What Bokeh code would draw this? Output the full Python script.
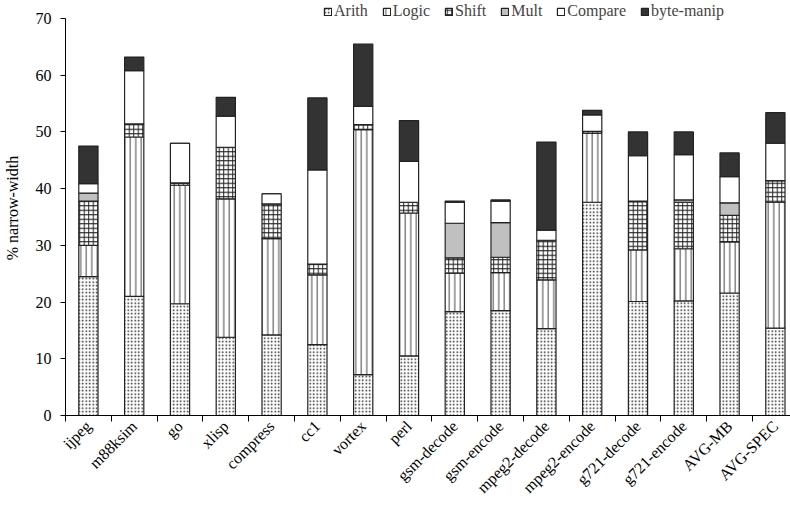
from bokeh.plotting import figure
from bokeh.models import ColumnDataSource, Range1d, FixedTicker, CustomJSTickFormatter, Legend
from bokeh.embed import file_html
from bokeh.resources import INLINE
import math

categories = ["ijpeg", "m88ksim", "go", "xlisp", "compress", "cc1", "vortex", "perl",
              "gsm-decode", "gsm-encode", "mpeg2-decode", "mpeg2-encode",
              "g721-decode", "g721-encode", "AVG-MB", "AVG-SPEC"]
arith   = [24.5, 21.0, 19.7, 13.8, 14.2, 12.5, 7.2, 10.5, 18.3, 18.5, 15.3, 37.6, 20.1, 20.2, 21.6, 15.4]
logic   = [5.5, 28.1, 20.9, 24.4, 17.0, 12.3, 43.2, 25.2, 6.8, 6.7, 8.6, 12.2, 9.1, 9.2, 9.0, 22.2]
shift   = [7.8, 2.3, 0.4, 9.1, 6.1, 1.9, 0.9, 1.9, 2.7, 2.7, 7.0, 0.3, 8.5, 8.2, 4.7, 3.8]
mult    = [1.4, 0, 0, 0, 0, 0, 0, 0, 6.1, 6.1, 0, 0, 0.1, 0.4, 2.2, 0]
compare = [1.7, 9.4, 7.0, 5.5, 1.8, 16.6, 3.2, 7.2, 3.7, 3.8, 1.8, 2.9, 8.0, 8.0, 4.6, 6.6]
byte_manip = [6.6, 2.4, 0, 3.3, 0, 12.7, 11.0, 7.2, 0.2, 0.2, 15.5, 0.8, 4.2, 4.0, 4.2, 5.4]
series_names = ["Arith", "Logic", "Shift", "Mult", "Compare", "byte-manip"]
y_ticks = [0, 10, 20, 30, 40, 50, 60, 70]

n = len(categories)
source = ColumnDataSource(dict(
    x=[i + 0.5 for i in range(n)],
    Arith=arith, Logic=logic, Shift=shift, Mult=mult, Compare=compare,
    byte=byte_manip,
))

FONT = "Liberation Serif"

p = figure(width=790, height=505, output_backend="svg", toolbar_location=None,
           x_range=Range1d(0, 15.83), y_range=Range1d(0, 73.17),
           min_border_left=65, min_border_right=0, min_border_top=0, min_border_bottom=90)
p.outline_line_color = None
p.grid.visible = False
p.background_fill_color = "white"

fields = ["Arith", "Logic", "Shift", "Mult", "Compare", "byte"]
fills = ["white", "white", "white", "#c0c0c0", "white", "#333333"]
hatches = ["dot", "vertical_line", "cross", "blank", "blank", "blank"]
hcolors = ["#222222", "#444444", "#222222", "#222222", "#222222", "#222222"]
scales = [3.5, 5.5, 4.5, 6, 6, 6]
renderers = p.vbar_stack(fields, x="x", width=0.42, source=source,
                         fill_color=fills, line_color="#222222", line_width=1.2,
                         hatch_pattern=hatches, hatch_color=hcolors,
                         hatch_scale=scales, hatch_weight=1)

legend = Legend(items=[(name, [r]) for name, r in zip(series_names, renderers)],
                orientation="horizontal", location=(258, 395),
                label_text_font=FONT, label_text_font_size="16px",
                glyph_width=9, glyph_height=9, label_standoff=2,
                spacing=14, padding=2, margin=0,
                border_line_color=None, background_fill_alpha=0,
                label_height=12)
p.add_layout(legend, "center")

xa = p.xaxis[0]
xa.ticker = FixedTicker(ticks=[i + 0.5 for i in range(n)], minor_ticks=list(range(n + 1)))
xa.formatter = CustomJSTickFormatter(args=dict(labels=categories),
                                     code="return labels[Math.floor(tick)] || '';")
xa.major_label_orientation = math.pi / 4
xa.major_tick_out = 0
xa.major_tick_in = 0
xa.minor_tick_out = 6
xa.minor_tick_in = 0
xa.minor_tick_line_color = "black"
xa.axis_line_color = "black"
xa.major_label_text_font = FONT
xa.major_label_text_font_size = "16px"
xa.major_label_text_color = "black"
xa.major_label_standoff = 2

ya = p.yaxis[0]
ya.ticker = FixedTicker(ticks=y_ticks)
ya.bounds = (0, 70)
ya.major_tick_out = 5
ya.major_tick_in = 0
ya.minor_tick_line_color = None
ya.axis_line_color = "black"
ya.major_tick_line_color = "black"
ya.major_label_text_font = FONT
ya.major_label_text_font_size = "16px"
ya.major_label_text_color = "black"
ya.major_label_standoff = 9
ya.axis_label = "% narrow-width"
ya.axis_label_text_font = FONT
ya.axis_label_text_font_size = "16px"
ya.axis_label_text_font_style = "normal"
ya.axis_label_text_color = "black"
ya.axis_label_standoff = 12

open("out.html", "w").write(file_html(p, INLINE))
